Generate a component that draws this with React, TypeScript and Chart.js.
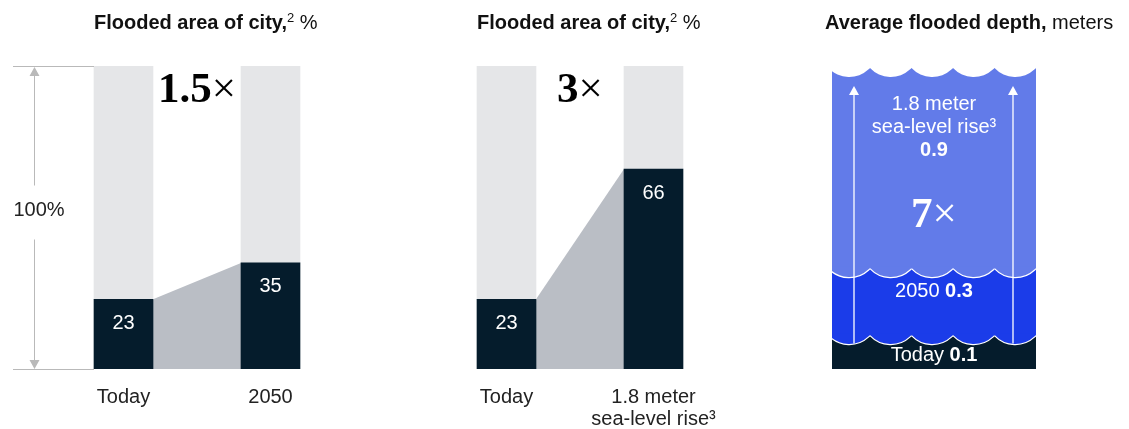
import { useEffect, useRef } from 'react';
import { Chart, registerables } from 'chart.js';

Chart.register(...registerables);

// ---- data ----
const AREA_SCENARIOS_2050 = ['Today', '2050'];
const AREA_VALUES_2050 = [23, 35];
const AREA_SCENARIOS_SLR = ['Today', ['1.8 meter', 'sea-level rise³']];
const AREA_VALUES_SLR = [23, 66];
const AREA_TOTAL = 100;
const AREA_TOTAL_LABEL = '100%';

const DEPTH_SCENARIOS = [['Today'], ['2050'], ['1.8 meter', 'sea-level rise³']];
const DEPTH_VALUES = [0.1, 0.3, 0.9];
const DEPTH_AXIS_MAX = 0.9;

const MULTIPLIER_2050 = '1.5';
const MULTIPLIER_SLR = '3';
const MULTIPLIER_DEPTH = '7';

// ---- styles ----
const SANS = '"Liberation Sans", Arial, Helvetica, sans-serif';
const SERIF = '"Liberation Serif", "DejaVu Serif", serif';
const NAVY = '#051c2c';
const LIGHT_GREY = '#e5e6e8';
const CONNECTOR = '#babec5';
const BRACKET = '#b9b9b9';
const TEXT = '#222222';
const DEPTH_COLORS = [NAVY, '#1b3ce9', '#627be9'];
const WAVE_PERIOD = 41.5;
const WAVE_DEPTH = 9;

function drawMultiplier(ctx: any, num: string, cx: number, baseline: number, color: string) {
  const numFont = `bold 43px ${SERIF}`;
  const timesFont = `43px ${SERIF}`;
  ctx.save();
  ctx.fillStyle = color;
  ctx.textBaseline = 'alphabetic';
  ctx.textAlign = 'left';
  ctx.font = numFont;
  const w1 = ctx.measureText(num).width;
  ctx.font = timesFont;
  const w2 = ctx.measureText('×').width;
  const x0 = cx - (w1 + w2) / 2;
  ctx.font = numFont;
  ctx.fillText(num, x0, baseline);
  ctx.font = timesFont;
  ctx.fillText('×', x0 + w1, baseline);
  ctx.restore();
}

function drawMixed(ctx: any, parts: [string, string][], cx: number, cy: number, color: string) {
  ctx.save();
  ctx.fillStyle = color;
  ctx.textBaseline = 'middle';
  ctx.textAlign = 'left';
  let total = 0;
  const widths = parts.map(([t, f]) => {
    ctx.font = f;
    const w = ctx.measureText(t).width;
    total += w;
    return w;
  });
  let x = cx - total / 2;
  parts.forEach(([t, f], i) => {
    ctx.font = f;
    ctx.fillText(t, x, cy);
    x += widths[i];
  });
  ctx.restore();
}

// Scalloped edge: circular arcs hanging below a boundary line, filled with the colour above it
function drawScallops(ctx: any, left: number, right: number, y: number, fill: string, stroke: string | null) {
  const P = WAVE_PERIOD;
  const s = WAVE_DEPTH;
  const r = (P * P / 4 + s * s) / (2 * s);
  const theta = Math.atan2(r - s, P / 2);
  ctx.save();
  ctx.beginPath();
  ctx.rect(left, y - 3, right - left, s + 5);
  ctx.clip();
  for (let x1 = right; x1 > left; x1 -= P) {
    const cx = x1 - P / 2;
    const cy = y + s - r;
    ctx.beginPath();
    ctx.moveTo(x1 - P, y - 2);
    ctx.lineTo(x1 - P, y);
    ctx.arc(cx, cy, r, Math.PI - theta, theta, true);
    ctx.lineTo(x1, y - 2);
    ctx.closePath();
    ctx.fillStyle = fill;
    ctx.fill();
    if (stroke) {
      ctx.beginPath();
      ctx.arc(cx, cy, r, Math.PI - theta, theta, true);
      ctx.strokeStyle = stroke;
      ctx.lineWidth = 1.2;
      ctx.stroke();
    }
  }
  ctx.restore();
}

const areaDecor = {
  id: 'areaDecor',
  beforeDatasetsDraw(chart: any) {
    const { ctx } = chart;
    const [a, b] = chart.getDatasetMeta(0).data;
    const y0 = chart.scales.y.getPixelForValue(0);
    const ax = a.x + a.width / 2;
    const bx = b.x - b.width / 2;
    ctx.save();
    ctx.fillStyle = CONNECTOR;
    ctx.beginPath();
    ctx.moveTo(ax, a.y);
    ctx.lineTo(bx, b.y);
    ctx.lineTo(bx, y0);
    ctx.lineTo(ax, y0);
    ctx.closePath();
    ctx.fill();
    ctx.restore();
  },
  afterDatasetsDraw(chart: any, _args: any, opts: any) {
    const { ctx, chartArea } = chart;
    const bars = chart.getDatasetMeta(0).data;
    const values = chart.data.datasets[0].data;
    bars.forEach((bar: any, i: number) => {
      drawMixed(ctx, [[String(values[i]), `20px ${SANS}`]], bar.x, bar.y + 24, '#ffffff');
    });
    const mid = (bars[0].x + bars[1].x) / 2;
    drawMultiplier(ctx, opts.multiplier, mid, chartArea.top + 36, '#000000');

    if (opts.showBracket) {
      const yTop = chart.scales.y.getPixelForValue(AREA_TOTAL);
      const yBot = chart.scales.y.getPixelForValue(0);
      const barLeft = bars[0].x - bars[0].width / 2;
      const ax = chartArea.left - 16;
      const lineStart = chartArea.left - 37;
      const textY = (yTop + yBot) / 2 - 7;
      ctx.save();
      ctx.strokeStyle = BRACKET;
      ctx.fillStyle = BRACKET;
      ctx.lineWidth = 1;
      ctx.beginPath();
      ctx.moveTo(lineStart, yTop + 0.5);
      ctx.lineTo(barLeft, yTop + 0.5);
      ctx.moveTo(lineStart, yBot + 0.5);
      ctx.lineTo(barLeft, yBot + 0.5);
      ctx.moveTo(ax + 0.5, yTop + 9);
      ctx.lineTo(ax + 0.5, textY - 25);
      ctx.moveTo(ax + 0.5, textY + 29);
      ctx.lineTo(ax + 0.5, yBot - 9);
      ctx.stroke();
      ctx.beginPath();
      ctx.moveTo(ax + 0.5, yTop + 1);
      ctx.lineTo(ax + 5.5, yTop + 10);
      ctx.lineTo(ax - 4.5, yTop + 10);
      ctx.closePath();
      ctx.moveTo(ax + 0.5, yBot);
      ctx.lineTo(ax + 5.5, yBot - 9);
      ctx.lineTo(ax - 4.5, yBot - 9);
      ctx.closePath();
      ctx.fill();
      ctx.restore();
      drawMixed(ctx, [[AREA_TOTAL_LABEL, `20px ${SANS}`]], ax + 5, textY, TEXT);
    }
  },
};

const depthDecor = {
  id: 'depthDecor',
  afterDatasetsDraw(chart: any) {
    const { ctx, chartArea } = chart;
    const yS = chart.scales.y;
    const el = chart.getDatasetMeta(0).data[0];
    const left = el.x - el.width / 2;
    const right = el.x + el.width / 2;
    const last = DEPTH_VALUES.length - 1;

    DEPTH_VALUES.forEach((v, i) => {
      const y = yS.getPixelForValue(v);
      const above = i < last ? DEPTH_COLORS[i + 1] : '#ffffff';
      drawScallops(ctx, left, right, y, above, i < last ? '#ffffff' : null);
    });

    // rise arrows from today's level up to the sea-level-rise surface
    const yFrom = yS.getPixelForValue(DEPTH_VALUES[0]) + WAVE_DEPTH - 1;
    const yTip = chartArea.top + 18;
    ctx.save();
    ctx.strokeStyle = '#ffffff';
    ctx.fillStyle = '#ffffff';
    ctx.lineWidth = 1.3;
    [left + 22, right - 23].forEach((x) => {
      ctx.beginPath();
      ctx.moveTo(x, yFrom);
      ctx.lineTo(x, yTip + 8);
      ctx.stroke();
      ctx.beginPath();
      ctx.moveTo(x, yTip);
      ctx.lineTo(x + 5, yTip + 9);
      ctx.lineTo(x - 5, yTip + 9);
      ctx.closePath();
      ctx.fill();
    });
    ctx.restore();

    const cx = el.x;
    const top = yS.getPixelForValue(DEPTH_VALUES[last]);
    const reg = `20px ${SANS}`;
    const bold = `bold 20px ${SANS}`;
    DEPTH_SCENARIOS[last].forEach((line, k) => {
      drawMixed(ctx, [[line, reg]], cx, top + 36 + k * 23, '#ffffff');
    });
    drawMixed(ctx, [[DEPTH_VALUES[last].toFixed(1), bold]], cx, top + 36 + DEPTH_SCENARIOS[last].length * 23, '#ffffff');
    drawMultiplier(ctx, MULTIPLIER_DEPTH, cx, top + 159, '#ffffff');

    const offsets = [20, 23];
    for (let i = 0; i < last; i++) {
      const y = yS.getPixelForValue(DEPTH_VALUES[i]);
      drawMixed(ctx, [[DEPTH_SCENARIOS[i][0] + ' ', reg], [DEPTH_VALUES[i].toFixed(1), bold]], cx, y + offsets[i], '#ffffff');
    }
  },
};

function makeAreaChart(canvas: HTMLCanvasElement, labels: any[], values: number[], multiplier: string, showBracket: boolean, padLeft: number, padRight: number) {
  return new Chart(canvas, {
    type: 'bar',
    data: {
      labels,
      datasets: [
        { data: values, backgroundColor: NAVY, barThickness: 59, borderWidth: 0 },
        { data: values.map((v) => AREA_TOTAL - v), backgroundColor: LIGHT_GREY, barThickness: 59, borderWidth: 0 },
      ],
    },
    options: {
      responsive: false,
      animation: false,
      devicePixelRatio: 1,
      layout: { padding: { left: padLeft, right: padRight, top: 66, bottom: 0 } },
      scales: {
        x: {
          stacked: true,
          grid: { display: false, drawTicks: false },
          border: { display: false },
          ticks: {
            color: TEXT,
            font: { family: SANS, size: 20, lineHeight: 1.1 },
            padding: 17,
            maxRotation: 0,
            autoSkip: false,
          },
          afterFit: (scale: any) => {
            scale.height = 60;
          },
        },
        y: { stacked: true, display: false, min: 0, max: AREA_TOTAL },
      },
      plugins: {
        legend: { display: false },
        tooltip: { enabled: false },
        areaDecor: { multiplier, showBracket },
      } as any,
    },
    plugins: [areaDecor],
  });
}

function makeDepthChart(canvas: HTMLCanvasElement) {
  return new Chart(canvas, {
    type: 'bar',
    data: {
      labels: [''],
      datasets: DEPTH_VALUES.map((v, i) => ({
        data: [[i === 0 ? 0 : DEPTH_VALUES[i - 1], v]],
        backgroundColor: DEPTH_COLORS[i],
        barThickness: 204,
        borderWidth: 0,
        grouped: false,
      })) as any,
    },
    options: {
      responsive: false,
      animation: false,
      devicePixelRatio: 1,
      layout: { padding: { left: 52, right: 93, top: 68, bottom: 60 } },
      scales: {
        x: { display: false },
        y: { display: false, min: 0, max: DEPTH_AXIS_MAX },
      },
      plugins: { legend: { display: false }, tooltip: { enabled: false } },
    },
    plugins: [depthDecor],
  });
}

const titleStyle: any = {
  position: 'absolute',
  top: 11,
  fontFamily: SANS,
  fontSize: 20,
  lineHeight: '22px',
  color: '#111111',
  whiteSpace: 'nowrap',
};
const supStyle: any = { fontSize: 13, position: 'relative', top: -7 };

export default function App() {
  const c1 = useRef<HTMLCanvasElement>(null);
  const c2 = useRef<HTMLCanvasElement>(null);
  const c3 = useRef<HTMLCanvasElement>(null);

  useEffect(() => {
    const charts = [
      makeAreaChart(c1.current!, AREA_SCENARIOS_2050, AREA_VALUES_2050, MULTIPLIER_2050, true, 50, 36),
      makeAreaChart(c2.current!, AREA_SCENARIOS_SLR, AREA_VALUES_SLR, MULTIPLIER_SLR, false, 33, 33),
      makeDepthChart(c3.current!),
    ];
    return () => charts.forEach((c) => c.destroy());
  }, []);

  return (
    <div style={{ position: 'absolute', left: 0, top: 0, width: 1129, height: 429, background: '#ffffff', overflow: 'hidden' }}>
      <canvas ref={c1} width={380} height={429} style={{ position: 'absolute', left: 0, top: 0, width: 380, height: 429 }} />
      <canvas ref={c2} width={360} height={429} style={{ position: 'absolute', left: 400, top: 0, width: 360, height: 429 }} />
      <canvas ref={c3} width={349} height={429} style={{ position: 'absolute', left: 780, top: 0, width: 349, height: 429 }} />
      <div style={{ ...titleStyle, left: 94 }}>
        <b>Flooded area of city,</b>
        <span style={supStyle}>2</span> %
      </div>
      <div style={{ ...titleStyle, left: 477 }}>
        <b>Flooded area of city,</b>
        <span style={supStyle}>2</span> %
      </div>
      <div style={{ ...titleStyle, left: 825 }}>
        <b>Average flooded depth,</b> meters
      </div>
    </div>
  );
}
